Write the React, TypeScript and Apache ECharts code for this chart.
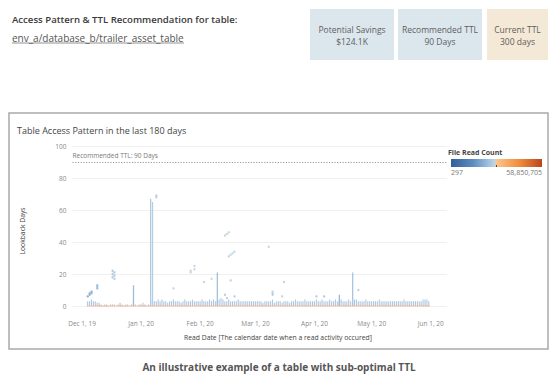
import React, { useEffect, useRef } from 'react';
import * as echarts from 'echarts';

// ---- axis ticks ----
const xTickDates = ['2019-12-01', '2020-01-01', '2020-02-01', '2020-03-01', '2020-04-01', '2020-05-01', '2020-06-01'];
const xTickLabels = ['Dec 1, 19', 'Jan 1, 20', 'Feb 1, 20', 'Mar 1, 20', 'Apr 1, 20', 'May 1, 20', 'Jun 1, 20'];
const xRange = ['2019-11-26', '2020-06-09'];
const yTicks = [0, 20, 40, 60, 80, 100];

// ---- daily low-lookback band (one value per day, starting bandStart) ----
const bandStart = '2019-12-04';
const bandTops = [
  // Dec 4-10
  3, 3, 4, 3, 3, 2, 2,
  // Dec 11-31
  1, 0, 1, 1, 0, 1, 1, 1, 0, 1, 2, 1, 0, 1, 1, 0, 1, 2, 1, 0, 1,
  // Jan 1-5
  1, 2, 1, 0, 1,
  // Jan 6-31
  4, 4, 3, 3, 4, 3, 4, 3, 3, 2, 3, 3, 4, 3, 3, 3, 2, 3, 4, 3, 3, 3, 4, 3, 3, 3,
  // Feb 1-29
  3, 4, 3, 3, 3, 4, 3, 4, 3, 3, 4, 5, 4, 3, 3, 4, 3, 3, 3, 3, 4, 3, 3, 3, 3, 3, 3, 3, 3,
  // Mar 1-31
  3, 3, 3, 3, 2, 3, 3, 3, 3, 4, 2, 3, 3, 3, 2, 3, 3, 3, 2, 3, 3, 4, 3, 3, 3, 3, 4, 3, 3, 3, 3,
  // Apr 1-30
  3, 4, 3, 3, 4, 3, 3, 3, 4, 3, 3, 4, 3, 3, 4, 3, 3, 3, 4, 3, 5, 4, 4, 3, 3, 3, 3, 4, 3, 3,
  // May 1-31
  3, 3, 3, 3, 4, 3, 3, 3, 3, 3, 3, 3, 3, 3, 3, 3, 3, 4, 3, 3, 3, 3, 3, 3, 3, 3, 3, 4, 4, 4, 3,
];

// ---- dense columns (every lookback day up to the top) ----
const columnDates = ['2019-12-28', '2020-01-06', '2020-01-07', '2020-02-10', '2020-04-14', '2020-04-21'];
const columnTops = [13, 67, 65, 21, 7, 21];
const columnCounts = [19500000, 21800000, 22500000, 20200000, 18800000, 21100000];

// ---- individual reads ----
const pointDates = [
  '2019-12-04', '2019-12-05', '2019-12-05', '2019-12-06', '2019-12-06',
  '2019-12-09', '2019-12-09', '2019-12-09',
  '2019-12-17', '2019-12-17', '2019-12-17', '2019-12-18', '2019-12-18', '2019-12-18',
  '2020-01-09', '2020-01-09', '2020-01-18',
  '2020-01-27', '2020-01-27', '2020-01-29', '2020-01-29',
  '2020-02-03', '2020-02-07', '2020-02-14', '2020-02-14', '2020-02-15', '2020-02-15',
  '2020-02-16', '2020-02-16', '2020-02-17', '2020-02-17', '2020-02-18', '2020-02-19', '2020-02-19',
  '2020-03-08', '2020-03-10', '2020-03-10', '2020-03-10', '2020-03-15', '2020-03-16',
  '2020-04-02', '2020-04-06', '2020-04-24',
];
const pointLookback = [
  6, 7, 8, 8, 9,
  11, 12, 13,
  18, 20, 22, 17, 19, 21,
  68, 69, 11,
  21, 22, 23, 25,
  15, 17, 7, 44, 45, 5,
  46, 31, 32, 16, 33, 34, 6,
  37, 7, 8, 9, 6, 15,
  6, 6, 10,
];
const pointCounts = [
  16200000, 17100000, 16800000, 17600000, 16500000,
  18900000, 19400000, 18600000,
  20800000, 21300000, 20500000, 21900000, 20100000, 21000000,
  22200000, 21600000, 23400000,
  24100000, 23700000, 24500000, 23200000,
  22800000, 23900000, 21400000, 25200000, 24800000, 22100000,
  25600000, 23500000, 24300000, 22600000, 23800000, 24900000, 21700000,
  23300000, 22400000, 21900000, 22900000, 23100000, 22300000,
  21500000, 21200000, 22700000,
];

// ---- recommendation & legend ----
const ttlDays = 90;
const readCountMin = 297;
const readCountMax = 58850705;
const readCountLabels = ['297', '58,850,705'];

// ---- KPI cards ----
const kpiTitles = ['Potential Savings', 'Recommended TTL', 'Current TTL'];
const kpiValues = ['$124.1K', '90 Days', '300 days'];

const FONT = '"Open Sans", Lato, sans-serif';
const paletteStops = ['#2f5f98', '#5f8fc0', '#bcd5e8', '#fbc58c', '#f08c3e', '#b9461c'];

const toTime = (s: string) => {
  const [y, m, d] = s.split('-').map(Number);
  return new Date(y, m - 1, d).getTime();
};

export default function App() {
  const ref = useRef<HTMLDivElement>(null);

  useEffect(() => {
    if (!ref.current) return;
    const chart = echarts.init(ref.current, undefined, { renderer: 'svg' });

    const tickTimes = xTickDates.map(toTime);
    const [by, bm, bd] = bandStart.split('-').map(Number);
    const bandDays = bandTops.map((_, i) => new Date(by, bm - 1, bd + i).getTime());
    const bandData = bandTops.map((top, i) => [bandDays[i], top]);
    const zeroRow = bandDays.map((t) => [t, 0]);
    const columnData = columnDates.map((d, i) => [toTime(d), columnTops[i], columnCounts[i]]);
    const pointData = pointDates.map((d, i) => [toTime(d), pointLookback[i], pointCounts[i]]);

    const cards = [
      { x: 310, w: 84, fill: '#dce6ed' },
      { x: 398, w: 84, fill: '#dce6ed' },
      { x: 487, w: 61, fill: '#f4e8d6' },
    ];
    const cardGraphics: any[] = [];
    cards.forEach((c, i) => {
      cardGraphics.push({
        type: 'rect', shape: { x: c.x, y: 9, width: c.w, height: 51 },
        style: { fill: c.fill }, z: 1,
      });
      cardGraphics.push({
        type: 'text', x: c.x + c.w / 2, y: 29, z: 2,
        style: { text: kpiTitles[i], fontSize: 8.5, fontFamily: FONT, fill: '#5e5e5e', textAlign: 'center', textVerticalAlign: 'middle' },
      });
      cardGraphics.push({
        type: 'text', x: c.x + c.w / 2, y: 41.5, z: 2,
        style: { text: kpiValues[i], fontSize: 8.5, fontFamily: FONT, fill: '#5e5e5e', textAlign: 'center', textVerticalAlign: 'middle' },
      });
    });

    const option: any = {
      animation: false,
      backgroundColor: '#ffffff',
      grid: { left: 72.5, right: 113, top: 146, bottom: 75 },
      visualMap: {
        show: false,
        type: 'continuous',
        min: readCountMin,
        max: readCountMax,
        dimension: 2,
        seriesIndex: [1, 2],
        inRange: { color: paletteStops },
      },
      xAxis: {
        type: 'value',
        min: toTime(xRange[0]),
        max: toTime(xRange[1]) + 12 * 3600 * 1000,
        axisLine: { show: false },
        axisTick: { show: false },
        splitLine: { show: false },
        axisLabel: {
          customValues: tickTimes,
          formatter: (v: number) => {
            const i = tickTimes.indexOf(v);
            return i >= 0 ? xTickLabels[i] : '';
          },
          fontSize: 6.5,
          fontFamily: FONT,
          color: '#8a8a8a',
          margin: 14,
          hideOverlap: false,
        },
      },
      yAxis: {
        type: 'value',
        min: yTicks[0],
        max: yTicks[yTicks.length - 1],
        interval: yTicks[1] - yTicks[0],
        axisLine: { show: false },
        axisTick: { show: false },
        splitLine: { lineStyle: { color: '#f0f0f0', width: 1 } },
        axisLabel: { fontSize: 6.5, fontFamily: FONT, color: '#8a8a8a', margin: 6 },
      },
      series: [
        {
          type: 'bar',
          data: bandData,
          barWidth: 1.1,
          barGap: '-100%',
          itemStyle: { color: '#adc7e0' },
          z: 2,
          markLine: {
            silent: true,
            symbol: 'none',
            lineStyle: { type: [1.2, 1.5], color: '#9a9a9a', width: 1 },
            label: {
              position: 'insideStartTop',
              formatter: 'Recommended TTL: ' + ttlDays + ' Days',
              fontSize: 6.5,
              fontFamily: FONT,
              color: '#7a7a7a',
              distance: [0, 3],
            },
            data: [{ yAxis: ttlDays }],
          },
        },
        {
          type: 'bar',
          data: columnData,
          barWidth: 1.3,
          barGap: '-100%',
          z: 3,
        },
        {
          type: 'scatter',
          data: pointData,
          symbol: 'circle',
          symbolSize: 2.4,
          itemStyle: { opacity: 0.9 },
          z: 4,
        },
        {
          type: 'scatter',
          data: zeroRow,
          symbol: 'rect',
          symbolSize: [1.6, 1.3],
          itemStyle: { color: '#f3b088', opacity: 0.75 },
          z: 5,
        },
      ],
      graphic: [
        {
          type: 'rect', z: 0,
          shape: { x: 9, y: 113, width: 539, height: 236 },
          style: { fill: '#ffffff', stroke: '#a9a9a9', lineWidth: 1.5 },
        },
        {
          type: 'text', x: 12, y: 19.5, z: 2,
          style: { text: 'Access Pattern & TTL Recommendation for table:', fontSize: 9.6, fontWeight: 600, fontFamily: FONT, fill: '#3a3a3a', textVerticalAlign: 'middle' },
        },
        {
          type: 'text', x: 12, y: 37.5, z: 2,
          style: { text: 'env_a/database_b/trailer_asset_table', fontSize: 10, fontFamily: FONT, fill: '#555555', textVerticalAlign: 'middle' },
        },
        {
          type: 'line', z: 2,
          shape: { x1: 12, y1: 43, x2: 184, y2: 43 },
          style: { stroke: '#777777', lineWidth: 0.8 },
        },
        ...cardGraphics,
        {
          type: 'text', x: 17, y: 130.5, z: 2,
          style: { text: 'Table Access Pattern in the last 180 days', fontSize: 9, fontFamily: FONT, fill: '#444444', textVerticalAlign: 'middle' },
        },
        {
          type: 'text', x: 22, y: 231, rotation: Math.PI / 2, z: 2,
          style: { text: 'Lookback Days', fontSize: 6.8, fontFamily: FONT, fill: '#444444', textAlign: 'center', textVerticalAlign: 'middle' },
        },
        {
          type: 'text', x: 278, y: 337, z: 2,
          style: { text: 'Read Date [The calendar date when a read activity occured]', fontSize: 6.8, fontFamily: FONT, fill: '#444444', textAlign: 'center', textVerticalAlign: 'middle' },
        },
        {
          type: 'text', x: 448, y: 152, z: 2,
          style: { text: 'File Read Count', fontSize: 7, fontWeight: 'bold', fontFamily: FONT, fill: '#444444', textVerticalAlign: 'middle' },
        },
        {
          type: 'rect', z: 2,
          shape: { x: 451, y: 159, width: 91, height: 8 },
          style: {
            fill: new echarts.graphic.LinearGradient(0, 0, 1, 0, [
              { offset: 0, color: paletteStops[0] },
              { offset: 0.25, color: paletteStops[1] },
              { offset: 0.48, color: paletteStops[2] },
              { offset: 0.5, color: paletteStops[3] },
              { offset: 0.75, color: paletteStops[4] },
              { offset: 1, color: paletteStops[5] },
            ]),
          },
        },
        {
          type: 'rect', z: 3,
          shape: { x: 496, y: 165, width: 1, height: 2 },
          style: { fill: '#444444' },
        },
        {
          type: 'text', x: 451, y: 172.5, z: 2,
          style: { text: readCountLabels[0], fontSize: 7, fontFamily: FONT, fill: '#777777', textVerticalAlign: 'middle' },
        },
        {
          type: 'text', x: 542, y: 172.5, z: 2,
          style: { text: readCountLabels[1], fontSize: 7, fontFamily: FONT, fill: '#777777', textAlign: 'right', textVerticalAlign: 'middle' },
        },
        {
          type: 'text', x: 279, y: 367, z: 2,
          style: { text: 'An illustrative example of a table with sub-optimal TTL', fontSize: 10, fontWeight: 'bold', fontFamily: FONT, fill: '#555555', textAlign: 'center', textVerticalAlign: 'middle' },
        },
      ],
    };

    chart.setOption(option);
    return () => chart.dispose();
  }, []);

  return (
    <div
      ref={ref}
      style={{ position: 'fixed', left: 0, top: 0, width: 560, height: 381, background: '#ffffff' }}
    />
  );
}
